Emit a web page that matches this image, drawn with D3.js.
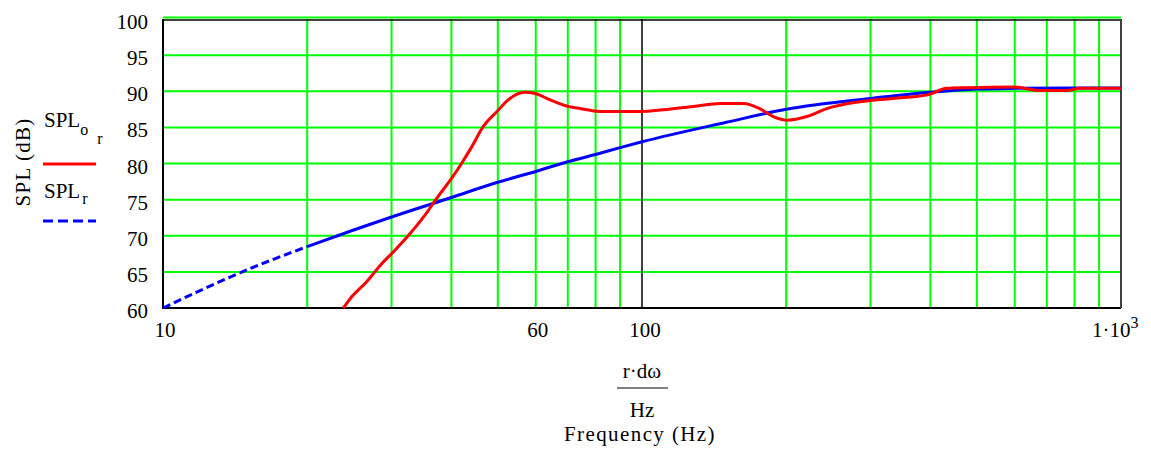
<!DOCTYPE html>
<html>
<head>
<meta charset="utf-8">
<script src="https://cdn.jsdelivr.net/npm/d3@7"></script>
<style>
  body { margin: 0; background: #fff; }
  text { font-family: "Liberation Serif", "Times New Roman", serif; fill: #000; }
</style>
</head>
<body>
<script>
// Set up size
var width = 1151;
var height = 449;

// Plot box (pixel edges of the Mathcad graph region)
var plot = {left: 163, right: 1121, top: 19, bottom: 308};

// Red curve: SPLo_r (Hz, dB)
var redFreq = [23.8, 24.8, 26.5, 28.5, 30.5, 32.8, 35.0, 37.3, 40.1, 42.0, 44.1, 46.6, 49.8,
               53.0, 57.0, 59.8, 64.3, 69.6, 74.3, 81.7, 100, 109, 128, 146, 163, 176, 188, 201,
               221, 243, 285, 334, 394, 433, 477, 595, 678, 771, 820, 1000];
var redSpl  = [60.0, 61.6, 63.5, 66.0, 68.0, 70.3, 72.6, 75.2, 78.0, 80.0, 82.3, 85.1, 87.2,
               89.0, 89.85, 89.7, 88.8, 87.95, 87.6, 87.2, 87.2, 87.4, 87.9, 88.3, 88.3, 87.6, 86.5, 86.0,
               86.5, 87.6, 88.55, 89.0, 89.5, 90.4, 90.5, 90.6, 90.1, 90.1, 90.4, 90.4];

// Blue curve: SPL_r (Hz, dB)
var blueFreq = [10, 15, 20, 25, 30, 40, 50, 60, 70, 80, 90, 100, 150, 200, 300, 400, 500, 600, 800, 1000];
var blueSpl  = [60.0, 65.3, 68.5, 70.8, 72.6, 75.3, 77.4, 78.9, 80.25, 81.25, 82.2, 83.0, 85.7, 87.5,
                89.0, 89.85, 90.3, 90.4, 90.45, 90.45];

// Axis labels
var yTicks = [60, 65, 70, 75, 80, 85, 90, 95, 100];
var xTickLabels = [10, 60, 100];

var red = d3.zip(redFreq, redSpl);
var blue = d3.zip(blueFreq, blueSpl);

var x = d3.scaleLog().domain([10, 1000]).range([plot.left, plot.right]);
var y = d3.scaleLinear().domain([60, 100]).range([plot.bottom, plot.top]);

var svg = d3.select('body').append('svg')
  .attr('width', width)
  .attr('height', height);

var green = '#00ff00';

// horizontal grid
svg.append('g').selectAll('line')
  .data(yTicks)
  .enter().append('line')
  .attr('x1', plot.left).attr('x2', plot.right)
  .attr('y1', function(d) { return y(d) - (d == 100 ? 1.5 : 0); })
  .attr('y2', function(d) { return y(d) - (d == 100 ? 1.5 : 0); })
  .attr('stroke', green).attr('stroke-width', 2);

// vertical grid (log ticks), decade line at 100 drawn dark
svg.append('g').selectAll('line')
  .data(x.ticks().filter(function(d) { return d > 10 && d < 1000; }))
  .enter().append('line')
  .attr('x1', function(d) { return x(d); }).attr('x2', function(d) { return x(d); })
  .attr('y1', plot.top).attr('y2', plot.bottom)
  .attr('stroke', function(d) { return d == 100 ? '#404040' : green; })
  .attr('stroke-width', 2);

// frame
svg.append('path')
  .attr('d', 'M' + plot.left + ',' + (plot.top + 1) + 'H' + plot.right)
  .attr('stroke', '#000').attr('stroke-width', 1.5).attr('fill', 'none');
svg.append('path')
  .attr('d', 'M' + plot.left + ',' + plot.top + 'V' + plot.bottom + 'H' + plot.right)
  .attr('stroke', '#000').attr('stroke-width', 2).attr('fill', 'none');
svg.append('line')
  .attr('x1', plot.right).attr('x2', plot.right)
  .attr('y1', plot.top).attr('y2', plot.bottom)
  .attr('stroke', '#404040').attr('stroke-width', 2);

// curves
var line = d3.line()
  .x(function(d) { return x(d[0]); })
  .y(function(d) { return y(d[1]); })
  .curve(d3.curveMonotoneX);

// blue: dashes show only at the low end, segments merge into a solid line after ~20 Hz
svg.append('path').datum(blue.filter(function(d) { return d[0] <= 20; }))
  .attr('d', line)
  .attr('fill', 'none').attr('stroke', '#0000ff').attr('stroke-width', 3)
  .attr('stroke-dasharray', '8,4');
svg.append('path').datum(blue.filter(function(d) { return d[0] >= 20; }))
  .attr('d', line)
  .attr('fill', 'none').attr('stroke', '#0000ff').attr('stroke-width', 3);

svg.append('path').datum(red)
  .attr('d', line)
  .attr('fill', 'none').attr('stroke', '#ff0000').attr('stroke-width', 3);

// y tick labels
svg.append('g').selectAll('text')
  .data(yTicks)
  .enter().append('text')
  .attr('x', 148)
  .attr('y', function(d) { return y(d) + 10; })
  .attr('text-anchor', 'end')
  .style('font-size', '21px')
  .text(function(d) { return d; });

// x tick labels
svg.append('g').selectAll('text')
  .data(xTickLabels)
  .enter().append('text')
  .attr('x', function(d) { return x(d) + (d == 100 ? 3 : 2); })
  .attr('y', 337)
  .attr('text-anchor', 'middle')
  .style('font-size', '21px')
  .text(function(d) { return d; });

var thou = svg.append('text')
  .attr('x', 1092).attr('y', 337)
  .style('font-size', '21px');
thou.append('tspan').text('1\u00b710');
thou.append('tspan').attr('dy', -9).style('font-size', '16px').text('3');

// y axis title
svg.append('text')
  .attr('transform', 'translate(30,162) rotate(-90)')
  .attr('text-anchor', 'middle')
  .style('font-size', '21px')
  .style('letter-spacing', '1.2px')
  .text('SPL (dB)');

// x axis title: fraction r·dω / Hz, then Frequency (Hz)
svg.append('text')
  .attr('x', 642).attr('y', 378)
  .attr('text-anchor', 'middle')
  .style('font-size', '21px')
  .text('r\u00b7d\u03c9');
svg.append('line')
  .attr('x1', 617).attr('x2', 668)
  .attr('y1', 388).attr('y2', 388)
  .attr('stroke', '#000').attr('stroke-width', 1.2);
svg.append('text')
  .attr('x', 642).attr('y', 417)
  .attr('text-anchor', 'middle')
  .style('font-size', '21px')
  .text('Hz');
svg.append('text')
  .attr('x', 640).attr('y', 441)
  .attr('text-anchor', 'middle')
  .style('font-size', '21px')
  .style('letter-spacing', '1.4px')
  .text('Frequency (Hz)');

// legend
var l1 = svg.append('text').attr('x', 44).attr('y', 127).style('font-size', '21px');
l1.append('tspan').text('SPL');
l1.append('tspan').attr('dy', 8).style('font-size', '16px').text('o');
l1.append('tspan').attr('dx', 9).attr('dy', 9).style('font-size', '16px').text('r');
svg.append('line')
  .attr('x1', 43).attr('x2', 96).attr('y1', 164).attr('y2', 164)
  .attr('stroke', '#ff0000').attr('stroke-width', 3);

var l2 = svg.append('text').attr('x', 44).attr('y', 198).style('font-size', '21px');
l2.append('tspan').text('SPL');
l2.append('tspan').attr('dx', 2).attr('dy', 6).style('font-size', '16px').text('r');
svg.append('line')
  .attr('x1', 43).attr('x2', 96).attr('y1', 221).attr('y2', 221)
  .attr('stroke', '#0000ff').attr('stroke-width', 3)
  .attr('stroke-dasharray', '10,5');
</script>
</body>
</html>
